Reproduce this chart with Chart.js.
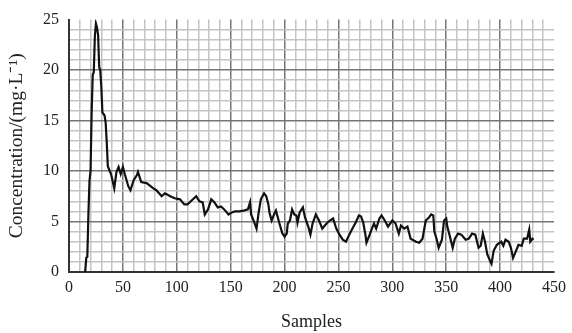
<!DOCTYPE html>
<html>
<head>
<meta charset="utf-8">
<script src="https://cdn.jsdelivr.net/npm/chart.js@4"></script>
<style>
  body { margin:0; background:#fff; }
</style>
</head>
<body>
<canvas id="concChart" width="572" height="333"></canvas>
<script>
// Data
const sampleNo = [15,16,17,18,19,20,21,22,23,24,25,26,27,28,29,30,31,33,34,35,36,37,
  39,42,44,46,48,50,52,55,57,60,63,64,67,72,78,81,86,89,94,98,103,107,110,115,118,121,124,126,129,132,135,138,
  141,144,148,151,154,158,163,166,168,169,172,174,176,178,181,183,185,186,188,191,192,195,198,200,202,203,205,207,209,211,212,214,217,219,222,224,226,229,232,235,239,242,245,248,251,254,257,260,263,266,269,271,273,275,276,279,281,283,285,288,290,293,296,
  300,303,306,308,311,314,317,322,325,328,331,334,336,338,339,341,343,346,348,350,351,353,356,358,361,364,368,371,374,377,380,382,384,386,388,391,392,394,397,401,403,405,408,410,412,414,417,420,422,425,427,428,430,431];
const concValues = [0,1.4,1.5,5.7,9,10,15.8,19.5,19.8,23.4,24.6,24.2,23.5,20.3,20,18.3,15.8,15.5,14.8,12.9,10.5,10.2,
  9.7,8.3,9.9,10.4,9.7,10.4,9.6,8.5,8.1,9.1,9.6,9.9,8.9,8.8,8.3,8.1,7.5,7.8,7.5,7.3,7.2,6.7,6.7,7.2,7.5,7.0,6.9,5.7,6.2,7.2,6.9,6.4,
  6.5,6.2,5.7,5.9,6.0,6.0,6.1,6.2,6.9,5.7,4.9,4.3,5.9,7.2,7.8,7.5,6.7,5.9,5.1,5.9,6.1,4.9,3.8,3.5,3.8,4.8,5.1,6.2,5.7,5.6,4.9,5.9,6.4,5.4,4.5,3.7,4.8,5.7,5.1,4.3,4.8,5.1,5.3,4.3,3.7,3.2,3.0,3.7,4.3,4.9,5.6,5.5,4.9,3.7,2.9,3.7,4.3,4.8,4.3,5.3,5.6,5.1,4.5,
  5.1,4.8,3.8,4.6,4.3,4.5,3.3,3.0,2.9,3.3,5.1,5.4,5.7,5.6,4.0,3.3,2.4,3.2,5.1,5.3,4.5,3.7,2.4,3.3,3.8,3.7,3.2,3.3,3.8,3.7,2.4,2.6,3.8,3.0,1.8,1.0,0.8,2.1,2.7,3.0,2.6,3.2,3.0,2.4,1.4,1.9,2.7,2.6,3.3,3.3,4.2,3.0,3.3,3.2];

const xMin = 0, xMax = 450, xStep = 10, xMajor = 50;
const yMin = 0, yMax = 25, yStep = 1, yMajor = 5;
const xTitle = "Samples";
const yTitle = "Concentration/(mg\u00B7L\u207B\u00B9)";

const points = sampleNo.map((s, i) => ({ x: s, y: concValues[i] }));

const serif = "'Liberation Serif', 'Times New Roman', serif";

// grid: light minor lines, darker every major step, none on the far edge
function gridColor(major, max){
  return ctx => {
    const v = ctx.tick ? ctx.tick.value : 0;
    if (v === max) return "rgba(0,0,0,0)";
    return v % major === 0 ? "#767676" : "#c4c4c4";
  };
}

new Chart(document.getElementById("concChart"), {
  type: "line",
  data: {
    datasets: [{
      data: points,
      borderColor: "#111",
      borderWidth: 2.2,
      pointRadius: 0,
      tension: 0,
      fill: false
    }]
  },
  options: {
    responsive: false,
    animation: false,
    layout: { padding: { top: 11, right: 16, left: 0, bottom: 0 } },
    plugins: { legend: { display: false }, tooltip: { enabled: false } },
    scales: {
      x: {
        type: "linear",
        min: xMin, max: xMax,
        afterFit: s => { s.height = 61; },
        border: { color: "#333", width: 2 },
        grid: { color: gridColor(xMajor, xMax), lineWidth: 1.5, drawTicks: false },
        ticks: {
          stepSize: xStep, autoSkip: false, maxRotation: 0, padding: 6,
          color: "#222", font: { family: serif, size: 16 },
          callback: v => v % xMajor === 0 ? v : ""
        },
        title: { display: true, text: xTitle, color: "#222", font: { family: serif, size: 18 }, padding: { top: 0, bottom: 0 } }
      },
      y: {
        min: yMin, max: yMax,
        afterFit: s => { s.width = 69; },
        border: { color: "#333", width: 2 },
        grid: { color: gridColor(yMajor, yMax), lineWidth: 1.5, drawTicks: false },
        ticks: {
          stepSize: yStep, autoSkip: false, padding: 10,
          color: "#222", font: { family: serif, size: 16 },
          callback: v => v % yMajor === 0 ? v : ""
        },
        title: { display: true, text: yTitle, color: "#222", font: { family: serif, size: 19.5 }, padding: { top: 5, bottom: 0 } }
      }
    }
  }
});
</script>
</body>
</html>
